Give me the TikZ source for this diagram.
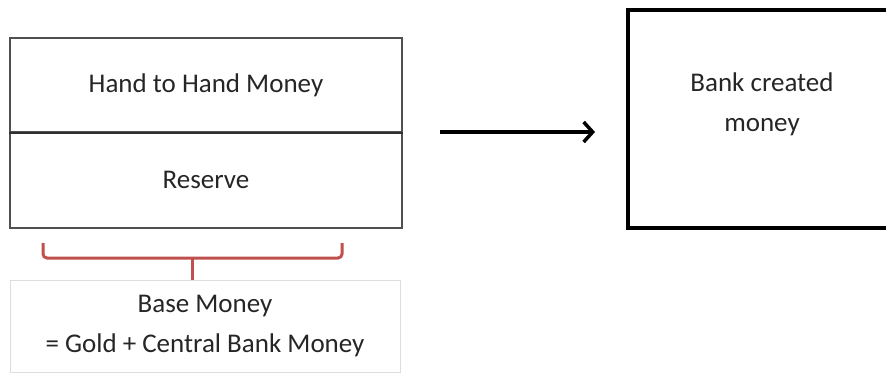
\documentclass[tikz,border=0pt]{standalone}
\usepackage{fontspec}
\setmainfont{Carlito}
\usetikzlibrary{arrows.meta}

\definecolor{bracered}{HTML}{C0504D}
\definecolor{boxgray}{HTML}{505050}
\definecolor{lightgray}{HTML}{DDDDDD}

\begin{document}
\begin{tikzpicture}[x=1pt,y=-1pt,
  every node/.style={font=\fontsize{27}{40}\selectfont, text=black!85, align=center},
  moneybox/.style={draw=boxgray, line width=1.8pt, minimum width=392pt, inner sep=0pt},
  bankbox/.style={draw=black, line width=4pt, minimum width=262pt, minimum height=218pt, inner sep=0pt},
  basebox/.style={draw=lightgray, line width=1pt, minimum width=390pt, minimum height=92pt, inner sep=0pt},
  bigarrow/.style={line width=3.5pt, -{Straight Barb[length=9pt,width=20pt,line width=3.5pt]}},
  brace/.style={draw=bracered, line width=3pt, rounded corners=4pt}]

\useasboundingbox (0,0) rectangle (886,374);

% left: money held by the public and the reserve
\node[moneybox, minimum height=94pt] (hand) at (206,85) {Hand to Hand Money};
\node[moneybox, minimum height=96pt] (reserve) at (206,180) {Reserve};
\draw[boxgray!60!black, line width=2.2pt] (hand.south west) -- (hand.south east);

% right: the money created by banks
\node[bankbox] (bank) at (759,119) {};
\node (banktext) at (762,104) {Bank created\\money};

\coordinate (arrowstart) at (440,132);
\coordinate (arrowend) at (595,132);
\draw[bigarrow] (arrowstart) -- (arrowend);

% brace and the base money
\node[basebox] (base) at (205,326) {Base Money\\= Gold + Central Bank Money};
\coordinate (braceleft) at (43,243);
\coordinate (braceright) at (342,243);
\coordinate (bracemid) at (192,258);
\draw[brace] (braceleft) -- (43,258) -- (342,258) -- (braceright);
\draw[brace] (bracemid) -- (base.north -| bracemid);

\end{tikzpicture}
\end{document}
